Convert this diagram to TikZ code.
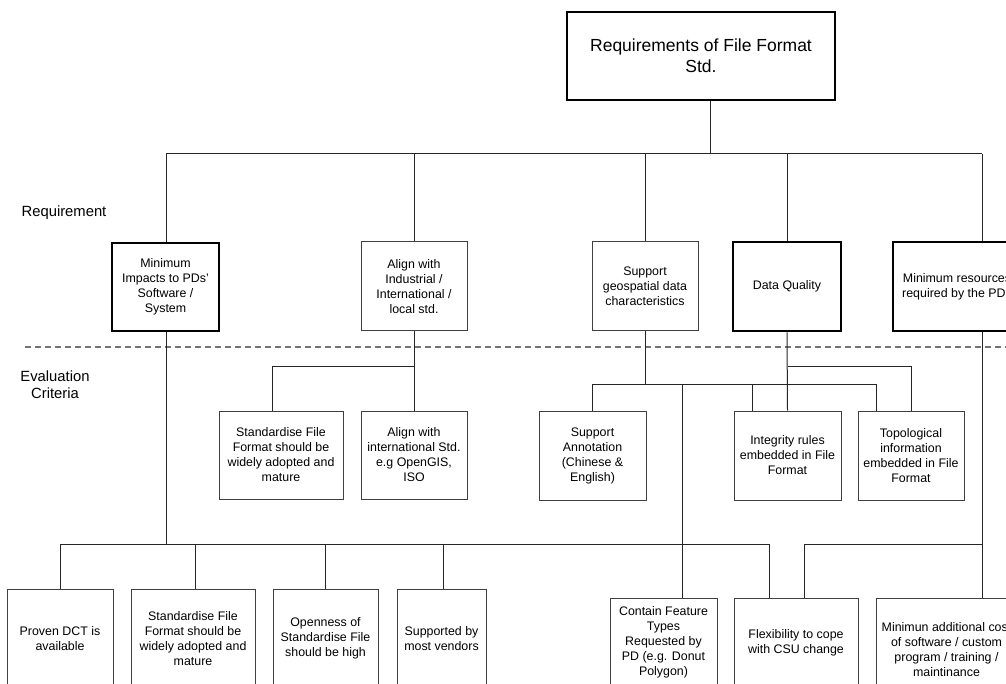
\documentclass[tikz,border=0pt]{standalone}
\usepackage{fontspec}
\setmainfont{Liberation Sans}
\begin{document}
\begin{tikzpicture}[x=1pt,y=-1pt,
  box/.style={draw=black!75, line width=1pt, fill=white, inner sep=1pt, align=center, font=\fontsize{12.4}{15}\selectfont},
  thickbox/.style={box, draw=black, line width=2.6pt},
  conn/.style={draw=black!85, line width=1pt},
  lbl/.style={align=center, font=\fontsize{14.8}{17}\selectfont}]
\clip (0,0) rectangle (1006,684);
\fill[white] (0,0) rectangle (1006,684);

% dashed separator
\coordinate (dl) at (25,347);
\coordinate (dr) at (1010,347);
\draw[black!55, line width=1pt, dash pattern=on 6pt off 4pt] (dl) -- (dr);

% labels
\node[lbl] (lreq) at (64,213) {Requirement};
\node[lbl] (leval) at (55,384.5) {Evaluation\\Criteria};

% top
\node[thickbox, minimum width=268, minimum height=88, font=\fontsize{17.5}{21}\selectfont] (top) at (701,56) {Requirements of File Format\\Std.};

% requirement level
\node[thickbox, minimum width=107, minimum height=88] (r1) at (165.5,287) {Minimum\\Impacts to PDs'\\Software /\\System};
\node[box, minimum width=106, minimum height=89] (r2) at (414,286.5) {Align with\\Industrial /\\International /\\local std.};
\node[box, minimum width=106, minimum height=89] (r3) at (645,286.5) {Support\\geospatial data\\characteristics};
\node[thickbox, minimum width=108, minimum height=89] (r4) at (787,286.5) {Data Quality};
\node[thickbox, minimum width=128, minimum height=89] (r5) at (957,286.5) {Minimum resources\\required by the PDs};

% evaluation level
\node[box, minimum width=124, minimum height=88] (e1) at (281,455) {Standardise File\\Format should be\\widely adopted and\\mature};
\node[box, minimum width=106, minimum height=88] (e2) at (414,455) {Align with\\international Std.\\e.g OpenGIS,\\ISO};
\node[box, minimum width=107, minimum height=89] (e3) at (592.5,455.5) {Support\\Annotation\\(Chinese \&\\English)};
\node[box, minimum width=107, minimum height=89] (e4) at (787.5,455.5) {Integrity rules\\embedded in File\\Format};
\node[box, minimum width=106, minimum height=89] (e5) at (911,455.5) {Topological\\information\\embedded in File\\Format};

% bottom level
\node[box, anchor=north, minimum width=106, minimum height=98] (b1) at (60,589) {Proven DCT is\\available};
\node[box, anchor=north, minimum width=124, minimum height=98] (b2) at (193,589) {Standardise File\\Format should be\\widely adopted and\\mature};
\node[box, anchor=north, minimum width=105, minimum height=98] (b3) at (325.5,589) {Openness of\\Standardise File\\should be high};
\node[box, anchor=north, minimum width=89, minimum height=98] (b4) at (441.5,589) {Supported by\\most vendors};
\node[box, anchor=north, minimum width=107, minimum height=87] (b5) at (663.5,598) {Contain Feature\\Types\\Requested by\\PD (e.g. Donut\\Polygon)};
\node[box, anchor=north, minimum width=124, minimum height=89] (b6) at (796,598) {Flexibility to cope\\with CSU change};
\node[box, anchor=north, minimum width=141, minimum height=103] (b7) at (946.5,598) {Minimun additional cost\\of software / custom\\program / training /\\maintinance};

% connectors: top to requirements
\coordinate (tj) at (710,154);
\coordinate (bus1L) at (166,154);
\coordinate (bus1R) at (982,154);
\draw[conn] (top.south -| tj) -- (tj);
\draw[conn] (bus1L) -- (bus1R);
\draw[conn] (bus1L) -- (r1.north -| bus1L);
\draw[conn] (r2.north |- bus1L) -- (r2.north);
\draw[conn] (r3.north |- bus1L) -- (r3.north);
\draw[conn] (r4.north |- bus1L) -- (r4.north);
\draw[conn] (bus1R) -- (r5.north -| bus1R);

% requirement 2
\coordinate (j2) at (414,366);
\draw[conn] (r2.south) -- (e2.north);
\draw[conn] (j2) -| ([xshift=-9]e1.north);

% requirement 3
\coordinate (j3) at (645,384);
\coordinate (bus3L) at (592.5,384);
\coordinate (bus3R) at (876,384);
\coordinate (c682) at (682,384);
\coordinate (c752) at (752,384);
\draw[conn] (r3.south) -- (j3);
\draw[conn] (bus3L) -- (bus3R);
\draw[conn] (bus3L) -- (e3.north);
\draw[conn] (c682) -- (c682 |- b5.north);
\draw[conn] (c752) -- (c752 |- e4.north);
\draw[conn] (bus3R) -- (bus3R |- e5.north);

% requirement 4
\coordinate (j4) at (787.5,366);
\draw[conn] (r4.south) -- (e4.north);
\draw[conn] (j4) -| (e5.north);

% requirement 1 to bottom
\coordinate (j1) at (166,544);
\coordinate (bus4L) at (60,544);
\coordinate (bus4R) at (769,544);
\draw[conn] (r1.south -| j1) -- (j1);
\draw[conn] (bus4L) -- (bus4R);
\draw[conn] (bus4L) -- (b1.north);
\draw[conn] ([xshift=2]b2.north |- bus4L) -- ([xshift=2]b2.north);
\draw[conn] (b3.north |- bus4L) -- (b3.north);
\draw[conn] ([xshift=1.5]b4.north |- bus4L) -- ([xshift=1.5]b4.north);
\draw[conn] (bus4R) -- (bus4R |- b6.north);

% requirement 5 to bottom
\coordinate (j5) at (982,544);
\draw[conn] (r5.south -| j5) -- (j5 |- b7.north);
\draw[conn] (j5) -| ([xshift=8]b6.north);
\end{tikzpicture}
\end{document}
